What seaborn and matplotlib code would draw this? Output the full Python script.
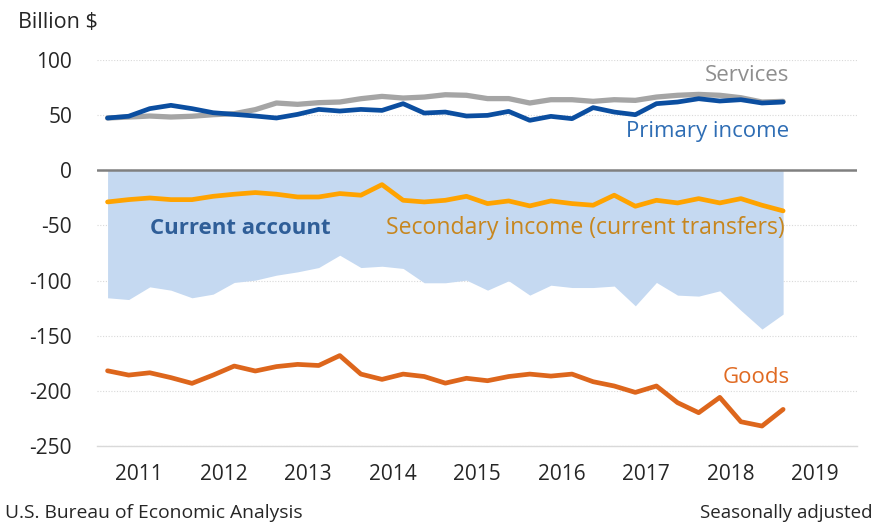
import numpy as np
import pandas as pd
import matplotlib
matplotlib.use("Agg")
import matplotlib.pyplot as plt
import seaborn as sns
from matplotlib.transforms import blended_transform_factory

# quarterly data, 2011Q1 - 2019Q1 (billion $, seasonally adjusted)
quarters = [f"{y}Q{q}" for y in range(2011, 2020) for q in range(1, 5)][:33]
years = ["2011", "2012", "2013", "2014", "2015", "2016", "2017", "2018", "2019"]

services = [47.4, 48.3, 49.2, 48.3, 49.0, 50.4, 51.3, 55.0, 61.0, 59.8, 61.3,
            61.9, 64.9, 67.0, 65.5, 66.4, 68.5, 68.0, 65.0, 65.0, 61.0, 64.0,
            64.0, 62.5, 64.0, 63.4, 66.4, 68.0, 68.8, 68.0, 65.8, 61.9, 62.5]
primary_income = [47.4, 49.0, 55.9, 58.9, 55.9, 52.2, 50.7, 49.2, 47.4, 50.7,
                  55.2, 53.7, 55.2, 54.3, 60.4, 51.9, 52.8, 49.2, 49.8, 53.4,
                  45.3, 48.9, 46.8, 56.8, 52.8, 50.4, 60.4, 61.9, 64.9, 62.8,
                  64.0, 61.0, 61.9]
secondary_income = [-28.7, -26.6, -25.1, -26.6, -26.6, -23.6, -21.7, -20.2,
                    -21.7, -24.2, -24.2, -21.1, -22.6, -13.0, -27.2, -28.7,
                    -27.2, -23.6, -30.2, -27.8, -32.3, -27.8, -30.2, -31.7,
                    -22.6, -32.6, -27.2, -29.6, -25.7, -29.6, -25.7, -31.7,
                    -36.8]
goods = [-181.8, -185.7, -183.6, -188.0, -193.2, -185.7, -177.5, -182.0,
         -178.0, -176.0, -177.0, -168.0, -184.8, -189.6, -184.8, -187.0,
         -193.0, -188.6, -190.8, -187.0, -184.8, -186.6, -184.8, -191.7,
         -195.6, -201.4, -195.6, -210.7, -219.8, -205.9, -228.0, -231.9,
         -216.8]
current_account = [-115.6, -117.2, -105.7, -108.7, -115.6, -112.3, -101.7,
                   -99.6, -95.1, -92.1, -88.2, -77.0, -88.2, -87.0, -89.0,
                   -102.0, -102.0, -99.6, -108.7, -100.2, -113.2, -104.2,
                   -106.3, -106.3, -105.0, -122.9, -101.7, -113.2, -114.1,
                   -109.3, -127.0, -144.0, -130.4]

df = pd.DataFrame({
    "quarter": quarters,
    "Services": services,
    "Primary income": primary_income,
    "Secondary income": secondary_income,
    "Goods": goods,
    "Current account": current_account,
})
df["t"] = np.arange(len(df))

sns.set_theme(style="white")
plt.rcParams["font.family"] = ["Open Sans", "DejaVu Sans"]

fig = plt.figure(figsize=(8.76, 5.25), dpi=100)
ax = fig.add_axes([97 / 876, 1 - 446 / 525, (857 - 97) / 876, (446 - 60) / 525])

# shaded current account
ax.fill_between(df["t"], df["Current account"], 0, color="#C5D9F1", lw=0, zorder=1)
ax.axhline(0, color="#808080", lw=1.8, zorder=2)

line_colors = {
    "Services": "#A5A5A5",
    "Primary income": "#0B4EA0",
    "Secondary income": "#FFA300",
    "Goods": "#DD661C",
}
for name, col in line_colors.items():
    sns.lineplot(data=df, x="t", y=name, ax=ax, color=col, lw=3.8 if name == "Services" else 3.4,
                 solid_capstyle="round", zorder=3)

ax.set_xlim(-0.23, 35.23)
ax.set_ylim(-250, 100)
ax.set_yticks(range(-250, 101, 50))
ax.set_yticklabels([str(v) for v in range(-250, 101, 50)])
ax.yaxis.grid(True, color="#D9D9D9", lw=0.8, ls=(0, (1, 1.5)))
ax.set_axisbelow(True)
ax.tick_params(axis="y", length=0, pad=18, labelsize=15, labelcolor="#262626")
ax.set_xlabel("")
ax.set_ylabel("")

for s in ["top", "right", "left"]:
    ax.spines[s].set_visible(False)
ax.spines["bottom"].set_color("#D9D9D9")
ax.spines["bottom"].set_linewidth(1.0)

# year boundaries (major) and quarter boundaries (minor)
ax.set_xticks(np.arange(len(years) + 1) * 4 - 0.5)
ax.set_xticks(np.arange(len(years) * 4 + 1) - 0.5, minor=True)
ax.tick_params(axis="x", which="major", direction="in", length=12, width=1.2,
               color="#D0D0D0", labelbottom=False)
ax.tick_params(axis="x", which="minor", direction="in", length=4.5, width=1.2,
               color="#D0D0D0")

trans = blended_transform_factory(ax.transData, ax.transAxes)
for k, yr in enumerate(years):
    ax.text(k * 4 + 1.5, -0.073, yr, transform=trans, ha="center", va="center",
            fontsize=15, color="#262626")

# series labels
ax.text(32.3, 86, "Services", ha="right", va="center", fontsize=16, color="#8E8E8E")
ax.text(32.3, 35, "Primary income", ha="right", va="center", fontsize=16, color="#2E6DB4")
ax.text(2.0, -52.5, "Current account", ha="left", va="center", fontsize=16,
        color="#2F5E98", fontweight="bold")
ax.text(13.2, -52.5, "Secondary income (current transfers)", ha="left", va="center",
        fontsize=16.6, color="#C7861E")
ax.text(32.3, -187.5, "Goods", ha="right", va="center", fontsize=16, color="#E06A22")

fig.text(18 / 876, 1 - 23 / 525, "Billion $", ha="left", va="center", fontsize=15.5,
         color="#262626")
fig.text(5 / 876, 1 - 513 / 525, "U.S. Bureau of Economic Analysis", ha="left",
         va="center", fontsize=13.9, color="#262626")
fig.text(872 / 876, 1 - 513 / 525, "Seasonally adjusted", ha="right", va="center",
         fontsize=13.5, color="#262626")

fig.savefig("out.png", dpi=100)
